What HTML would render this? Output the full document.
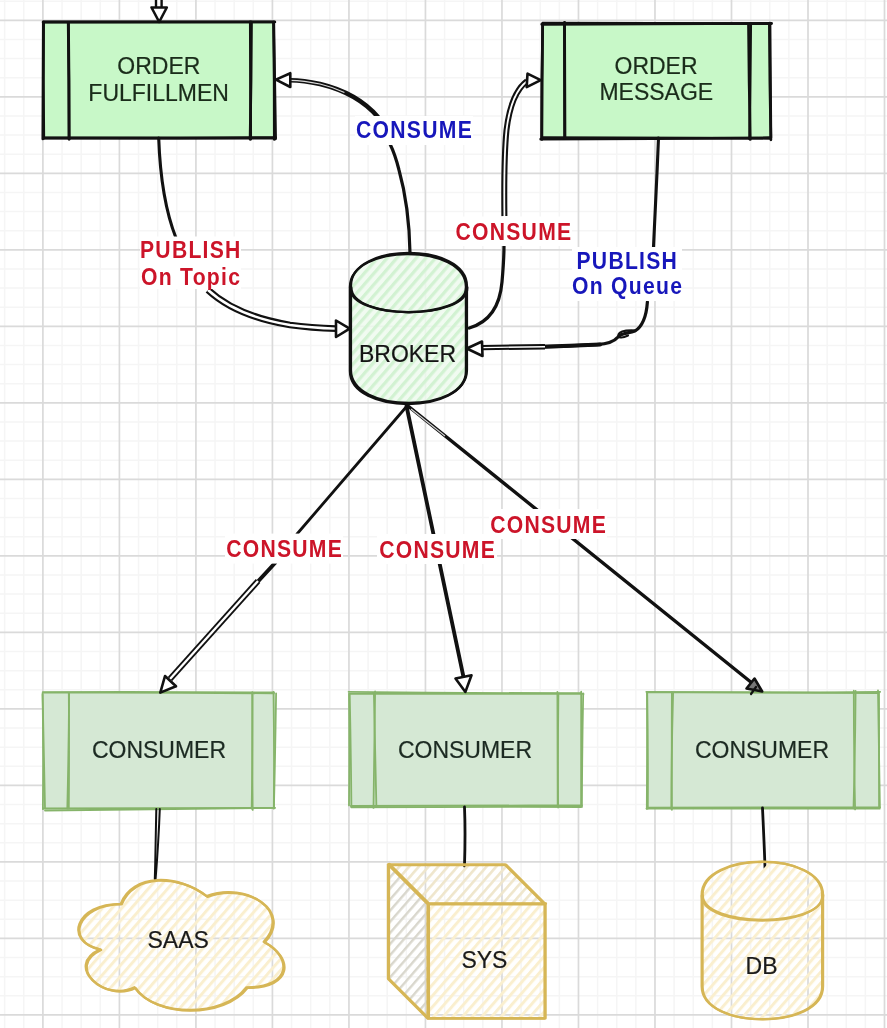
<!DOCTYPE html>
<html><head><meta charset="utf-8"><style>
html,body{margin:0;padding:0;background:#fff;width:887px;height:1028px;overflow:hidden}
svg{display:block;filter:blur(0.45px)}
text{font-family:"Liberation Sans",sans-serif}
</style></head><body>
<svg width="887" height="1028" viewBox="0 0 887 1028">
<defs>
<pattern id="hg" patternUnits="userSpaceOnUse" width="7.3" height="10" patternTransform="rotate(41)">
<rect x="0" y="0" width="7.3" height="10" fill="#effbef" fill-opacity="0.85"/>
<rect x="0" y="0" width="3.2" height="10" fill="#d2f2d2"/>
</pattern>
<pattern id="hy" patternUnits="userSpaceOnUse" width="7.3" height="10" patternTransform="rotate(41)">
<rect x="0" y="0" width="3" height="10" fill="#faefcf"/>
</pattern>
<pattern id="hy2" patternUnits="userSpaceOnUse" width="7.3" height="10" patternTransform="rotate(41)">
<rect x="0" y="0" width="2.6" height="10" fill="#efe6cc"/>
</pattern>
<pattern id="hyd" patternUnits="userSpaceOnUse" width="7.3" height="10" patternTransform="rotate(41)">
<rect x="0" y="0" width="2.4" height="10" fill="#d9d7cd"/>
</pattern>
</defs>
<rect width="887" height="1028" fill="#ffffff"/>
<path d="M4.64,0V1028M23.77,0V1028M62.03,0V1028M81.16,0V1028M100.28,0V1028M138.54,0V1028M157.67,0V1028M176.79,0V1028M215.05,0V1028M234.18,0V1028M253.30,0V1028M291.56,0V1028M310.69,0V1028M329.81,0V1028M368.07,0V1028M387.19,0V1028M406.32,0V1028M444.58,0V1028M463.70,0V1028M482.83,0V1028M521.09,0V1028M540.22,0V1028M559.34,0V1028M597.60,0V1028M616.73,0V1028M635.85,0V1028M674.11,0V1028M693.24,0V1028M712.36,0V1028M750.62,0V1028M769.75,0V1028M788.87,0V1028M827.13,0V1028M846.25,0V1028M865.38,0V1028M0,1.17H887M0,39.43H887M0,58.56H887M0,77.68H887M0,115.94H887M0,135.07H887M0,154.19H887M0,192.45H887M0,211.58H887M0,230.70H887M0,268.96H887M0,288.09H887M0,307.21H887M0,345.47H887M0,364.60H887M0,383.72H887M0,421.98H887M0,441.11H887M0,460.23H887M0,498.49H887M0,517.62H887M0,536.74H887M0,575.00H887M0,594.12H887M0,613.25H887M0,651.51H887M0,670.63H887M0,689.76H887M0,728.02H887M0,747.14H887M0,766.27H887M0,804.53H887M0,823.65H887M0,842.78H887M0,881.04H887M0,900.16H887M0,919.29H887M0,957.55H887M0,976.68H887M0,995.80H887" stroke="#f5f5f5" stroke-width="1.5" fill="none"/><path d="M42.90,0V1028M119.41,0V1028M195.92,0V1028M272.43,0V1028M348.94,0V1028M425.45,0V1028M501.96,0V1028M578.47,0V1028M654.98,0V1028M731.49,0V1028M808.00,0V1028M884.51,0V1028M0,20.30H887M0,96.81H887M0,173.32H887M0,249.83H887M0,326.34H887M0,402.85H887M0,479.36H887M0,555.87H887M0,632.38H887M0,708.89H887M0,785.40H887M0,861.91H887M0,938.42H887M0,1014.93H887" stroke="#dadada" stroke-width="1.7" fill="none"/>
<rect x="43.5" y="23" width="231.0" height="115.6" fill="#c8f8c8"/><path d="M43.1,22.2 Q159.0,22.1 274.9,22.0" fill="none" stroke="#111" stroke-width="2.7" stroke-linecap="round"/><path d="M43.2,21.9 Q158.8,21.8 274.5,21.9" fill="none" stroke="#111" stroke-width="2.7" stroke-linecap="round"/><path d="M273.5,22.0 Q274.5,80.7 274.3,139.4" fill="none" stroke="#111" stroke-width="2.7" stroke-linecap="round"/><path d="M273.8,23.3 Q274.9,81.0 275.6,138.8" fill="none" stroke="#111" stroke-width="2.7" stroke-linecap="round"/><path d="M275.6,137.5 Q160.0,138.4 44.4,138.1" fill="none" stroke="#111" stroke-width="2.7" stroke-linecap="round"/><path d="M273.6,138.1 Q158.9,137.9 44.3,137.8" fill="none" stroke="#111" stroke-width="2.7" stroke-linecap="round"/><path d="M43.8,138.3 Q43.0,80.1 43.6,22.0" fill="none" stroke="#111" stroke-width="2.7" stroke-linecap="round"/><path d="M42.8,139.0 Q43.2,80.8 43.3,22.6" fill="none" stroke="#111" stroke-width="2.7" stroke-linecap="round"/><path d="M68.2,22.5 Q69.0,80.8 69.0,139.1" fill="none" stroke="#111" stroke-width="2.7" stroke-linecap="round"/><path d="M68.5,23.1 Q69.2,81.1 69.2,139.2" fill="none" stroke="#111" stroke-width="2.7" stroke-linecap="round"/><path d="M251.5,22.1 Q251.3,80.7 250.1,139.2" fill="none" stroke="#111" stroke-width="2.7" stroke-linecap="round"/><path d="M250.3,21.9 Q250.4,80.6 250.7,139.2" fill="none" stroke="#111" stroke-width="2.7" stroke-linecap="round"/><rect x="541.8" y="23.5" width="228.70000000000005" height="115.1" fill="#c8f8c8"/><path d="M542.7,23.1 Q656.8,23.5 771.0,23.7" fill="none" stroke="#111" stroke-width="2.7" stroke-linecap="round"/><path d="M541.7,24.3 Q656.6,24.1 771.6,23.4" fill="none" stroke="#111" stroke-width="2.7" stroke-linecap="round"/><path d="M769.4,24.0 Q769.6,81.9 770.9,139.8" fill="none" stroke="#111" stroke-width="2.7" stroke-linecap="round"/><path d="M770.0,23.2 Q770.5,80.3 770.9,137.5" fill="none" stroke="#111" stroke-width="2.7" stroke-linecap="round"/><path d="M769.7,137.7 Q655.2,139.1 540.7,139.2" fill="none" stroke="#111" stroke-width="2.7" stroke-linecap="round"/><path d="M769.9,138.3 Q656.3,138.0 542.7,137.6" fill="none" stroke="#111" stroke-width="2.7" stroke-linecap="round"/><path d="M541.9,139.5 Q541.9,81.9 542.6,24.4" fill="none" stroke="#111" stroke-width="2.7" stroke-linecap="round"/><path d="M541.6,138.3 Q541.6,81.4 542.7,24.6" fill="none" stroke="#111" stroke-width="2.7" stroke-linecap="round"/><path d="M564.4,22.9 Q564.3,80.7 564.6,138.6" fill="none" stroke="#111" stroke-width="2.7" stroke-linecap="round"/><path d="M564.6,22.3 Q564.7,80.3 565.0,138.3" fill="none" stroke="#111" stroke-width="2.7" stroke-linecap="round"/><path d="M750.7,24.0 Q749.9,81.4 749.6,138.9" fill="none" stroke="#111" stroke-width="2.7" stroke-linecap="round"/><path d="M748.5,24.5 Q748.9,82.0 750.3,139.5" fill="none" stroke="#111" stroke-width="2.7" stroke-linecap="round"/><text transform="translate(158.8,73.8) scale(1,1.04)" text-anchor="middle" font-size="23.0" fill="#1a2c1a" stroke="#1a2c1a" stroke-width="0.2">ORDER</text><text transform="translate(158.6,100.5) scale(1,1.04)" text-anchor="middle" font-size="23.0" fill="#1a2c1a" stroke="#1a2c1a" stroke-width="0.2">FULFILLMEN</text><text transform="translate(656,73.5) scale(1,1.04)" text-anchor="middle" font-size="23.0" fill="#1a2c1a" stroke="#1a2c1a" stroke-width="0.2">ORDER</text><text transform="translate(656.3,99.7) scale(1,1.04)" text-anchor="middle" font-size="23.0" fill="#1a2c1a" stroke="#1a2c1a" stroke-width="0.2">MESSAGE</text><rect x="44" y="693" width="231" height="116" fill="#d5e8d4"/><path d="M43.7,692.7 Q158.7,692.3 273.8,693.4" fill="none" stroke="#86b46a" stroke-width="1.8" stroke-linecap="round"/><path d="M42.7,692.1 Q158.3,691.6 274.0,692.5" fill="none" stroke="#86b46a" stroke-width="1.8" stroke-linecap="round"/><path d="M273.5,692.0 Q274.4,750.3 273.8,808.6" fill="none" stroke="#86b46a" stroke-width="1.8" stroke-linecap="round"/><path d="M276.1,693.3 Q275.3,750.8 273.9,808.3" fill="none" stroke="#86b46a" stroke-width="1.8" stroke-linecap="round"/><path d="M274.6,807.9 Q159.8,809.2 45.0,810.5" fill="none" stroke="#86b46a" stroke-width="1.8" stroke-linecap="round"/><path d="M275.0,807.8 Q158.9,808.5 42.8,808.5" fill="none" stroke="#86b46a" stroke-width="1.8" stroke-linecap="round"/><path d="M45.0,808.0 Q43.8,751.2 42.6,694.4" fill="none" stroke="#86b46a" stroke-width="1.8" stroke-linecap="round"/><path d="M42.9,809.1 Q43.5,751.1 42.6,693.1" fill="none" stroke="#86b46a" stroke-width="1.8" stroke-linecap="round"/><path d="M69.1,693.6 Q68.7,751.1 67.3,808.6" fill="none" stroke="#86b46a" stroke-width="1.8" stroke-linecap="round"/><path d="M68.8,693.1 Q69.3,750.8 68.8,808.5" fill="none" stroke="#86b46a" stroke-width="1.8" stroke-linecap="round"/><path d="M252.5,694.5 Q252.1,752.2 252.7,809.9" fill="none" stroke="#86b46a" stroke-width="1.8" stroke-linecap="round"/><path d="M252.3,692.2 Q252.7,750.4 251.7,808.6" fill="none" stroke="#86b46a" stroke-width="1.8" stroke-linecap="round"/><rect x="350" y="692.5" width="232" height="114.0" fill="#d5e8d4"/><path d="M348.6,691.8 Q464.9,693.2 581.3,693.1" fill="none" stroke="#86b46a" stroke-width="1.8" stroke-linecap="round"/><path d="M349.8,693.8 Q466.7,693.6 583.5,693.9" fill="none" stroke="#86b46a" stroke-width="1.8" stroke-linecap="round"/><path d="M581.2,691.7 Q580.9,748.6 581.1,805.6" fill="none" stroke="#86b46a" stroke-width="1.8" stroke-linecap="round"/><path d="M583.2,693.5 Q582.1,750.2 581.9,807.0" fill="none" stroke="#86b46a" stroke-width="1.8" stroke-linecap="round"/><path d="M580.8,807.0 Q466.0,806.8 351.2,807.3" fill="none" stroke="#86b46a" stroke-width="1.8" stroke-linecap="round"/><path d="M581.9,805.5 Q466.4,805.3 350.9,806.0" fill="none" stroke="#86b46a" stroke-width="1.8" stroke-linecap="round"/><path d="M351.4,806.2 Q350.9,750.0 349.7,693.8" fill="none" stroke="#86b46a" stroke-width="1.8" stroke-linecap="round"/><path d="M349.0,805.4 Q349.5,749.5 349.0,693.7" fill="none" stroke="#86b46a" stroke-width="1.8" stroke-linecap="round"/><path d="M373.9,693.5 Q375.4,750.2 376.4,807.0" fill="none" stroke="#86b46a" stroke-width="1.8" stroke-linecap="round"/><path d="M375.1,691.4 Q374.1,749.6 373.5,807.9" fill="none" stroke="#86b46a" stroke-width="1.8" stroke-linecap="round"/><path d="M558.4,693.8 Q557.7,750.7 558.1,807.6" fill="none" stroke="#86b46a" stroke-width="1.8" stroke-linecap="round"/><path d="M557.4,691.8 Q557.4,748.7 557.7,805.7" fill="none" stroke="#86b46a" stroke-width="1.8" stroke-linecap="round"/><rect x="647" y="692" width="232" height="116.5" fill="#d5e8d4"/><path d="M646.3,691.8 Q762.1,692.3 877.9,693.2" fill="none" stroke="#86b46a" stroke-width="1.8" stroke-linecap="round"/><path d="M646.9,692.3 Q763.5,692.7 880.2,691.8" fill="none" stroke="#86b46a" stroke-width="1.8" stroke-linecap="round"/><path d="M879.0,692.1 Q879.1,749.6 879.1,807.1" fill="none" stroke="#86b46a" stroke-width="1.8" stroke-linecap="round"/><path d="M878.0,690.5 Q879.0,749.0 879.9,807.5" fill="none" stroke="#86b46a" stroke-width="1.8" stroke-linecap="round"/><path d="M879.7,808.7 Q763.1,808.5 646.5,808.6" fill="none" stroke="#86b46a" stroke-width="1.8" stroke-linecap="round"/><path d="M879.9,807.3 Q763.5,807.9 647.2,807.7" fill="none" stroke="#86b46a" stroke-width="1.8" stroke-linecap="round"/><path d="M647.8,808.5 Q648.2,750.6 647.2,692.8" fill="none" stroke="#86b46a" stroke-width="1.8" stroke-linecap="round"/><path d="M646.8,808.8 Q647.2,750.4 647.0,692.0" fill="none" stroke="#86b46a" stroke-width="1.8" stroke-linecap="round"/><path d="M671.9,692.1 Q671.6,751.0 671.9,809.8" fill="none" stroke="#86b46a" stroke-width="1.8" stroke-linecap="round"/><path d="M673.1,693.3 Q671.5,751.0 671.3,808.7" fill="none" stroke="#86b46a" stroke-width="1.8" stroke-linecap="round"/><path d="M855.6,690.9 Q855.2,749.6 853.5,808.3" fill="none" stroke="#86b46a" stroke-width="1.8" stroke-linecap="round"/><path d="M853.8,690.7 Q853.8,750.0 855.1,809.4" fill="none" stroke="#86b46a" stroke-width="1.8" stroke-linecap="round"/><text transform="translate(159.0,757.5) scale(1,1.04)" text-anchor="middle" font-size="23.0" fill="#1c2a22" stroke="#1c2a22" stroke-width="0.2">CONSUMER</text><text transform="translate(465,758) scale(1,1.04)" text-anchor="middle" font-size="23.0" fill="#1c2a22" stroke="#1c2a22" stroke-width="0.2">CONSUMER</text><text transform="translate(762,758) scale(1,1.04)" text-anchor="middle" font-size="23.0" fill="#1c2a22" stroke="#1c2a22" stroke-width="0.2">CONSUMER</text><path d="M350.6,286.6 C350.6,242.6 466.6,242.6 466.6,286.6 L466.6,370.6 C466.6,414.6 350.6,414.6 350.6,370.6 Z" fill="url(#hg)"/><path d="M350.6,286.6 C350.6,242.6 466.6,242.6 466.6,286.6 L466.6,370.6 C466.6,414.6 350.6,414.6 350.6,370.6 Z" transform="translate(-0.62,0.39)" fill="none" stroke="#111" stroke-width="2.4" stroke-linecap="round" stroke-linejoin="round"/><path d="M350.6,286.6 C350.6,242.6 466.6,242.6 466.6,286.6 L466.6,370.6 C466.6,414.6 350.6,414.6 350.6,370.6 Z" transform="translate(0.29,-0.64)" fill="none" stroke="#111" stroke-width="2.4" stroke-linecap="round" stroke-linejoin="round"/><path d="M350.6,286.6 C350.6,319.6 466.6,319.6 466.6,286.6" transform="translate(0.69,0.84)" fill="none" stroke="#111" stroke-width="2.4" stroke-linecap="round" stroke-linejoin="round"/><path d="M350.6,286.6 C350.6,319.6 466.6,319.6 466.6,286.6" transform="translate(-0.50,0.81)" fill="none" stroke="#111" stroke-width="2.4" stroke-linecap="round" stroke-linejoin="round"/><text transform="translate(407.5,361.9) scale(1,1.04)" text-anchor="middle" font-size="23.0" fill="#141414" stroke="#141414" stroke-width="0.2">BROKER</text><path d="M158.8,-2 L158.8,8" fill="none" stroke="#111" stroke-width="8.0" stroke-linecap="butt" stroke-linejoin="round"/><path d="M158.8,-2 L158.8,8" fill="none" stroke="#fff" stroke-width="3.2" stroke-linecap="butt" stroke-linejoin="round"/><polygon points="151.5,7.5 166.8,7.5 159.2,22.0" fill="#fff" stroke="#111" stroke-width="2.6" stroke-linejoin="round"/><path d="M158.7,138 C160,175 165,210 176,238" fill="none" stroke="#111" stroke-width="3.1" stroke-linecap="round" stroke-linejoin="round"/><path d="M208,290 C222,303 248,318 290,325 C310,327.8 325,328.3 336,328.6" fill="none" stroke="#111" stroke-width="6.8" stroke-linecap="butt" stroke-linejoin="round"/><path d="M208,290 C222,303 248,318 290,325 C310,327.8 325,328.3 336,328.6" fill="none" stroke="#fff" stroke-width="2.4" stroke-linecap="butt" stroke-linejoin="round"/><polygon points="336.0,320.5 336.0,337.0 349.7,328.7" fill="#fff" stroke="#111" stroke-width="2.6" stroke-linejoin="round"/><path d="M410,253 C409.5,225 406,195 399,170 C396,158 393,150 390,144" fill="none" stroke="#111" stroke-width="3.2" stroke-linecap="round" stroke-linejoin="round"/><path d="M378,117 C365,102 345,90 320,84 C308,81.5 298,80.5 290,80.3" fill="none" stroke="#111" stroke-width="4.4" stroke-linecap="round" stroke-linejoin="round"/><path d="M378,117 C365,102 345,90 320,84 C308,81.5 298,80.5 290,80.3" fill="none" stroke="#fff" stroke-width="1.2" stroke-dasharray="0,42,100" opacity="0.85"/><polygon points="290.3,73.2 290.3,87.0 275.9,79.6" fill="#fff" stroke="#111" stroke-width="2.6" stroke-linejoin="round"/><path d="M469.3,328 C490,322 500,305 502,282 C503.5,265 504,255 504,246" fill="none" stroke="#111" stroke-width="3.2" stroke-linecap="round" stroke-linejoin="round"/><path d="M504.4,216 C504,180 504.5,150 506.5,130 C509,110 515,90 527,81.2" fill="none" stroke="#111" stroke-width="6.0" stroke-linecap="butt" stroke-linejoin="round"/><path d="M504.4,216 C504,180 504.5,150 506.5,130 C509,110 515,90 527,81.2" fill="none" stroke="#fff" stroke-width="1.8" stroke-linecap="butt" stroke-linejoin="round"/><polygon points="527.5,73.7 526.7,87.2 540.7,80.2" fill="#fff" stroke="#111" stroke-width="2.6" stroke-linejoin="round"/><path d="M658.5,138 C657,175 655,215 653.5,247" fill="none" stroke="#111" stroke-width="3.1" stroke-linecap="round" stroke-linejoin="round"/><path d="M647.4,301.8 C646.5,315 643,326 635,331 C628,333.5 621,333 618,337 C614,342 606,344 597,344.6 C580,345.5 570,346 560,346.3 L520,347" fill="none" stroke="#111" stroke-width="3.2" stroke-linecap="round" stroke-linejoin="round"/><path d="M636,330.5 C628,330 620,330.5 618.5,334.5 C617.5,338 622,338.5 628,335.5" fill="none" stroke="#111" stroke-width="2.2" stroke-linecap="round" stroke-linejoin="round"/><path d="M600,344.5 C580,345.5 570,346 540,346.8" fill="none" stroke="#111" stroke-width="4.2" stroke-linecap="round" stroke-linejoin="round"/><path d="M545,346.7 L482,347.6" fill="none" stroke="#111" stroke-width="5.4" stroke-linecap="butt" stroke-linejoin="round"/><path d="M545,346.7 L482,347.6" fill="none" stroke="#fff" stroke-width="1.4" stroke-linecap="butt" stroke-linejoin="round"/><polygon points="482.0,341.5 482.5,356.0 466.8,348.5" fill="#fff" stroke="#111" stroke-width="2.6" stroke-linejoin="round"/><path d="M407,406 L297,534" fill="none" stroke="#111" stroke-width="2.8" stroke-linecap="round" stroke-linejoin="round"/><path d="M275,563 L252,588" fill="none" stroke="#111" stroke-width="4.0" stroke-linecap="round" stroke-linejoin="round"/><path d="M258,581 L170,679" fill="none" stroke="#111" stroke-width="6.0" stroke-linecap="butt" stroke-linejoin="round"/><path d="M258,581 L170,679" fill="none" stroke="#fff" stroke-width="2.3" stroke-linecap="butt" stroke-linejoin="round"/><polygon points="165.0,676.0 176.0,686.3 160.3,692.6" fill="#fff" stroke="#111" stroke-width="2.6" stroke-linejoin="round"/><path d="M406.5,406 L463.5,677" fill="none" stroke="#111" stroke-width="3.8" stroke-linecap="round" stroke-linejoin="round"/><polygon points="455.5,678.5 471.5,675.3 465.4,691.9" fill="#fff" stroke="#111" stroke-width="2.6" stroke-linejoin="round"/><path d="M408,406 L752,683" fill="none" stroke="#111" stroke-width="3.4" stroke-linecap="round" stroke-linejoin="round"/><path d="M411,409 L445,436" stroke="#fff" stroke-width="1.1" opacity="0.8"/><polygon points="754.5,678.5 746.5,688.5 762.2,691.5" fill="#777" stroke="#111" stroke-width="2.6" stroke-linejoin="round"/><path d="M756,687 L751,694" fill="none" stroke="#111" stroke-width="2.2" stroke-linecap="round" stroke-linejoin="round"/><path d="M156.3,809 C156,830 155.5,855 154.8,879" fill="none" stroke="#111" stroke-width="2.0" stroke-linecap="round" stroke-linejoin="round"/><path d="M159.8,809 C159,830 157.5,855 155.6,879" fill="none" stroke="#111" stroke-width="2.0" stroke-linecap="round" stroke-linejoin="round"/><path d="M464.5,807 C465.5,830 465,850 464.5,866" fill="none" stroke="#111" stroke-width="2.8" stroke-linecap="round" stroke-linejoin="round"/><path d="M762.5,808 C763.5,830 764.5,850 765,868" fill="none" stroke="#111" stroke-width="2.8" stroke-linecap="round" stroke-linejoin="round"/><rect x="355" y="116" width="118" height="29" fill="#fff"/><text transform="translate(414.53,138.0) scale(0.94,1.06)" text-anchor="middle" font-size="22.5" font-weight="bold" letter-spacing="1.35" fill="#1717bb">CONSUME</text><rect x="140" y="236.5" width="101" height="52.5" fill="#fff"/><text transform="translate(190.83,258.1) scale(0.94,1.06)" text-anchor="middle" font-size="22.5" font-weight="bold" letter-spacing="1.35" fill="#cc1429">PUBLISH</text><text transform="translate(191.13,285.1) scale(0.94,1.06)" text-anchor="middle" font-size="22.5" font-weight="bold" letter-spacing="1.35" fill="#cc1429">On Topic</text><rect x="455" y="216.5" width="117" height="29.5" fill="#fff"/><text transform="translate(513.93,239.5) scale(0.94,1.06)" text-anchor="middle" font-size="22.5" font-weight="bold" letter-spacing="1.35" fill="#cc1429">CONSUME</text><rect x="572" y="247" width="110" height="54" fill="#fff"/><text transform="translate(627.33,269.1) scale(0.94,1.06)" text-anchor="middle" font-size="22.5" font-weight="bold" letter-spacing="1.35" fill="#1717bb">PUBLISH</text><text transform="translate(627.63,293.9) scale(0.94,1.06)" text-anchor="middle" font-size="22.5" font-weight="bold" letter-spacing="1.35" fill="#1717bb">On Queue</text><rect x="225" y="533.6" width="118" height="30.0" fill="#fff"/><text transform="translate(284.63,557.4) scale(0.94,1.06)" text-anchor="middle" font-size="22.5" font-weight="bold" letter-spacing="1.35" fill="#cc1429">CONSUME</text><rect x="377" y="534" width="120" height="30" fill="#fff"/><text transform="translate(437.63,557.6) scale(0.94,1.06)" text-anchor="middle" font-size="22.5" font-weight="bold" letter-spacing="1.35" fill="#cc1429">CONSUME</text><rect x="489" y="509" width="118" height="30" fill="#fff"/><text transform="translate(548.63,532.5) scale(0.94,1.06)" text-anchor="middle" font-size="22.5" font-weight="bold" letter-spacing="1.35" fill="#cc1429">CONSUME</text><path d="M120.9,903.8 C75.1,903.8 63.7,941.8 100.3,949.3 C63.7,966.0 104.9,1002.4 134.6,987.3 C155.2,1017.6 223.9,1017.6 246.7,987.3 C292.5,987.3 292.5,956.9 263.9,941.8 C292.5,911.4 246.7,881.1 206.7,896.2 C178.1,873.5 132.3,873.5 120.9,903.8 Z" fill="url(#hy)"/><path d="M120.9,903.8 C75.1,903.8 63.7,941.8 100.3,949.3 C63.7,966.0 104.9,1002.4 134.6,987.3 C155.2,1017.6 223.9,1017.6 246.7,987.3 C292.5,987.3 292.5,956.9 263.9,941.8 C292.5,911.4 246.7,881.1 206.7,896.2 C178.1,873.5 132.3,873.5 120.9,903.8 Z" transform="translate(-0.18,-0.02)" fill="none" stroke="#d6b656" stroke-width="2.3" stroke-linecap="round" stroke-linejoin="round"/><path d="M120.9,903.8 C75.1,903.8 63.7,941.8 100.3,949.3 C63.7,966.0 104.9,1002.4 134.6,987.3 C155.2,1017.6 223.9,1017.6 246.7,987.3 C292.5,987.3 292.5,956.9 263.9,941.8 C292.5,911.4 246.7,881.1 206.7,896.2 C178.1,873.5 132.3,873.5 120.9,903.8 Z" transform="translate(0.88,0.60)" fill="none" stroke="#d6b656" stroke-width="2.3" stroke-linecap="round" stroke-linejoin="round"/><text transform="translate(178.2,947.5) scale(1,1.04)" text-anchor="middle" font-size="23.0" fill="#1a1a1a" stroke="#1a1a1a" stroke-width="0.2">SAAS</text><path d="M428.3,904.5 L545.4,904.5 L545.4,1018.5 L428.3,1018.5 Z" fill="url(#hy)"/><path d="M388.8,865.0 L505.9,865.0 L545.4,904.5 L428.3,904.5 Z" fill="url(#hy2)"/><path d="M388.8,865.0 L428.3,904.5 L428.3,1018.5 L388.8,979.0 Z" fill="url(#hyd)"/><path d="M388.8,865.0 L505.9,865.0 L545.4,904.5 L545.4,1018.5 L428.3,1018.5 L388.8,979.0 Z" transform="translate(-0.68,-0.14)" fill="none" stroke="#d6b656" stroke-width="2.6" stroke-linecap="round" stroke-linejoin="round"/><path d="M388.8,865.0 L505.9,865.0 L545.4,904.5 L545.4,1018.5 L428.3,1018.5 L388.8,979.0 Z" transform="translate(0.03,-0.32)" fill="none" stroke="#d6b656" stroke-width="2.6" stroke-linecap="round" stroke-linejoin="round"/><path d="M388.8,865.0 L428.3,904.5 L428.3,1018.5 M428.3,904.5 L545.4,904.5" transform="translate(-0.61,-0.36)" fill="none" stroke="#d6b656" stroke-width="2.6" stroke-linecap="round" stroke-linejoin="round"/><path d="M388.8,865.0 L428.3,904.5 L428.3,1018.5 M428.3,904.5 L545.4,904.5" transform="translate(0.44,-0.96)" fill="none" stroke="#d6b656" stroke-width="2.6" stroke-linecap="round" stroke-linejoin="round"/><text transform="translate(484.4,968.3) scale(1,1.04)" text-anchor="middle" font-size="23.0" fill="#1a1a1a" stroke="#1a1a1a" stroke-width="0.2">SYS</text><path d="M702.5,895 C702.5,851.0 823.0,851.0 823.0,895 L823.0,986.5 C823.0,1030.5 702.5,1030.5 702.5,986.5 Z" fill="url(#hy)"/><path d="M702.5,895 C702.5,851.0 823.0,851.0 823.0,895 L823.0,986.5 C823.0,1030.5 702.5,1030.5 702.5,986.5 Z" transform="translate(0.10,-0.11)" fill="none" stroke="#d6b656" stroke-width="2.2" stroke-linecap="round" stroke-linejoin="round"/><path d="M702.5,895 C702.5,851.0 823.0,851.0 823.0,895 L823.0,986.5 C823.0,1030.5 702.5,1030.5 702.5,986.5 Z" transform="translate(-0.87,-0.30)" fill="none" stroke="#d6b656" stroke-width="2.2" stroke-linecap="round" stroke-linejoin="round"/><path d="M702.5,895 C702.5,928 823.0,928 823.0,895" transform="translate(0.22,0.02)" fill="none" stroke="#d6b656" stroke-width="2.2" stroke-linecap="round" stroke-linejoin="round"/><path d="M702.5,895 C702.5,928 823.0,928 823.0,895" transform="translate(-0.78,0.87)" fill="none" stroke="#d6b656" stroke-width="2.2" stroke-linecap="round" stroke-linejoin="round"/><text transform="translate(761.5,973.7) scale(1,1.04)" text-anchor="middle" font-size="23.0" fill="#1a1a1a" stroke="#1a1a1a" stroke-width="0.2">DB</text>
</svg>
</body></html>
